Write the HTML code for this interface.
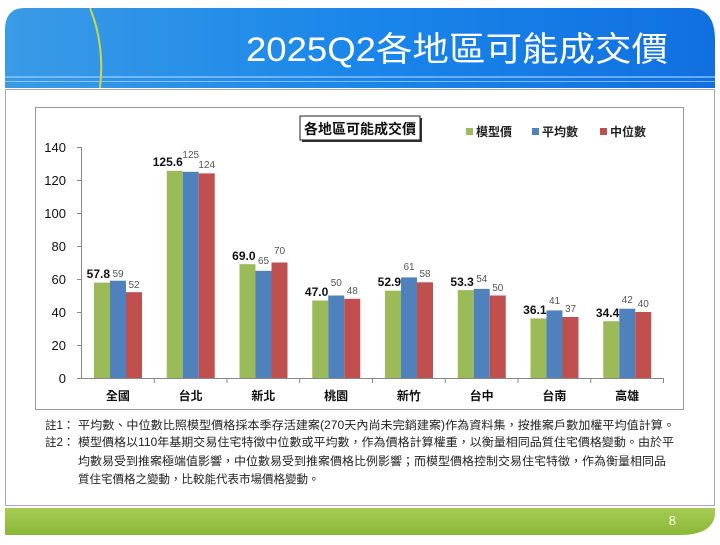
<!DOCTYPE html>
<html><head><meta charset="utf-8"><style>
body{margin:0;width:720px;height:540px;background:#fff;overflow:hidden;font-family:"Liberation Sans","Noto Sans CJK TC",sans-serif;}
</style></head><body>
<svg width="720" height="540" xmlns="http://www.w3.org/2000/svg" font-family="Liberation Sans, Noto Sans CJK TC, sans-serif">
<defs>
<linearGradient id="hd" x1="0" y1="0" x2="1" y2="0"><stop offset="0" stop-color="#3a9be6"/><stop offset="0.5" stop-color="#1a86ea"/><stop offset="1" stop-color="#1170e0"/></linearGradient>
<linearGradient id="ft" x1="0" y1="0" x2="0" y2="1"><stop offset="0" stop-color="#a6cc55"/><stop offset="1" stop-color="#8bb836"/></linearGradient>
</defs>
<path d="M5,30 Q5,8 25,8 L690,8 Q715,8 715,40 L715,88 L5,88 Z" fill="url(#hd)"/>
<rect x="5" y="76" width="710" height="2" fill="#9fd0ff" opacity="0.6"/>
<rect x="5" y="81" width="710" height="1" fill="#bfe0ff" opacity="0.6"/>
<path d="M90,8 Q105,45 100,88" stroke="#c8d84a" stroke-width="2" fill="none"/>
<text x="246" y="61" font-size="34" fill="#fff" textLength="422" lengthAdjust="spacingAndGlyphs">2025Q2各地區可能成交價</text>
<rect x="5.5" y="89.5" width="709" height="416" fill="#fff" stroke="#aaa"/>
<path d="M5,508 L715,508 L715,515 Q712,535 680,535 L5,535 Z" fill="url(#ft)"/>
<text x="676" y="525" text-anchor="end" font-size="13" fill="#fff">8</text>
<rect x="35.5" y="107.5" width="648" height="302" fill="#fff" stroke="#999"/>
<rect x="302" y="118" width="120" height="24" fill="#333"/>
<rect x="300" y="116" width="120" height="24" fill="#fff" stroke="#222"/>
<text x="360" y="134" text-anchor="middle" font-size="14" font-weight="bold" fill="#111">各地區可能成交價</text>
<rect x="466" y="128" width="7" height="7" fill="#9bbb59"/><text x="476" y="136" font-size="12" font-weight="bold" fill="#222">模型價</text>
<rect x="532" y="128" width="7" height="7" fill="#4f81bd"/><text x="542" y="136" font-size="12" font-weight="bold" fill="#222">平均數</text>
<rect x="600" y="128" width="7" height="7" fill="#c0504d"/><text x="610" y="136" font-size="12" font-weight="bold" fill="#222">中位數</text>
<g font-size="13" fill="#111" text-anchor="end">
<text x="66" y="152">140</text><text x="66" y="185">120</text><text x="66" y="218">100</text><text x="66" y="251">80</text><text x="66" y="284">60</text><text x="66" y="317">40</text><text x="66" y="350">20</text><text x="66" y="383">0</text>
</g>
<line x1="81.5" y1="147" x2="81.5" y2="379" stroke="#888"/>
<g stroke="#888">
<line x1="77" y1="147.5" x2="81" y2="147.5"/><line x1="77" y1="180.5" x2="81" y2="180.5"/><line x1="77" y1="213.5" x2="81" y2="213.5"/><line x1="77" y1="246.5" x2="81" y2="246.5"/><line x1="77" y1="279.5" x2="81" y2="279.5"/><line x1="77" y1="312.5" x2="81" y2="312.5"/><line x1="77" y1="345.5" x2="81" y2="345.5"/>
</g>
<g>
<rect x="94" y="282.6" width="16" height="95.4" fill="#9bbb59"/><rect x="110" y="280.7" width="16" height="97.3" fill="#4f81bd"/><rect x="126" y="292.2" width="16" height="85.8" fill="#c0504d"/>
<rect x="166.75" y="170.8" width="16" height="207.2" fill="#9bbb59"/><rect x="182.75" y="171.8" width="16" height="206.2" fill="#4f81bd"/><rect x="198.75" y="173.4" width="16" height="204.6" fill="#c0504d"/>
<rect x="239.5" y="264.2" width="16" height="113.8" fill="#9bbb59"/><rect x="255.5" y="270.8" width="16" height="107.2" fill="#4f81bd"/><rect x="271.5" y="262.5" width="16" height="115.5" fill="#c0504d"/>
<rect x="312.25" y="300.5" width="16" height="77.5" fill="#9bbb59"/><rect x="328.25" y="295.5" width="16" height="82.5" fill="#4f81bd"/><rect x="344.25" y="298.8" width="16" height="79.2" fill="#c0504d"/>
<rect x="385" y="290.7" width="16" height="87.3" fill="#9bbb59"/><rect x="401" y="277.4" width="16" height="100.6" fill="#4f81bd"/><rect x="417" y="282.3" width="16" height="95.7" fill="#c0504d"/>
<rect x="457.75" y="290.1" width="16" height="87.9" fill="#9bbb59"/><rect x="473.75" y="288.9" width="16" height="89.1" fill="#4f81bd"/><rect x="489.75" y="295.5" width="16" height="82.5" fill="#c0504d"/>
<rect x="530.5" y="318.4" width="16" height="59.6" fill="#9bbb59"/><rect x="546.5" y="310.4" width="16" height="67.6" fill="#4f81bd"/><rect x="562.5" y="317" width="16" height="61" fill="#c0504d"/>
<rect x="603.25" y="321.2" width="16" height="56.8" fill="#9bbb59"/><rect x="619.25" y="308.7" width="16" height="69.3" fill="#4f81bd"/><rect x="635.25" y="312" width="16" height="66" fill="#c0504d"/>
</g>
<g stroke="#888">
<line x1="154.25" y1="378" x2="154.25" y2="383"/><line x1="227" y1="378" x2="227" y2="383"/><line x1="299.75" y1="378" x2="299.75" y2="383"/><line x1="372.5" y1="378" x2="372.5" y2="383"/><line x1="445.25" y1="378" x2="445.25" y2="383"/><line x1="518" y1="378" x2="518" y2="383"/><line x1="590.75" y1="378" x2="590.75" y2="383"/><line x1="663.5" y1="378" x2="663.5" y2="383"/>
</g>
<line x1="77" y1="378.5" x2="664" y2="378.5" stroke="#888"/>
<g font-size="12" font-weight="bold" fill="#111" text-anchor="end">
<text x="110" y="278">57.8</text><text x="182.75" y="166">125.6</text><text x="255.5" y="260">69.0</text><text x="328.25" y="296">47.0</text><text x="401" y="286">52.9</text><text x="473.75" y="286">53.3</text><text x="546.5" y="314">36.1</text><text x="619.25" y="317">34.4</text>
</g>
<g font-size="10" fill="#555" text-anchor="middle">
<text x="118" y="277">59</text><text x="190.75" y="158">125</text><text x="263.5" y="264">65</text><text x="336.25" y="286">50</text><text x="409" y="270">61</text><text x="481.75" y="282">54</text><text x="554.5" y="304">41</text><text x="627.25" y="303">42</text>
<text x="134" y="288">52</text><text x="206.75" y="168">124</text><text x="279.5" y="254">70</text><text x="352.25" y="294">48</text><text x="425" y="277">58</text><text x="497.75" y="291">50</text><text x="570.5" y="312">37</text><text x="643.25" y="307">40</text>
</g>
<g font-size="12" font-weight="bold" fill="#111" text-anchor="middle">
<text x="117.9" y="400">全國</text><text x="190.6" y="400">台北</text><text x="263.4" y="400">新北</text><text x="336.1" y="400">桃園</text><text x="408.9" y="400">新竹</text><text x="481.6" y="400">台中</text><text x="554.4" y="400">台南</text><text x="627.1" y="400">高雄</text>
</g>
<g font-size="11.5" fill="#222">
<text x="45" y="429">註1：</text>
<text x="78" y="429" textLength="597" lengthAdjust="spacingAndGlyphs">平均數、中位數比照模型價格採本季存活建案(270天內尚未完銷建案)作為資料集，按推案戶數加權平均值計算。</text>
<text x="45" y="446">註2：</text>
<text x="78" y="446" textLength="596" lengthAdjust="spacingAndGlyphs">模型價格以110年基期交易住宅特徵中位數或平均數，作為價格計算權重，以衡量相同品質住宅價格變動。由於平</text>
<text x="78" y="465" textLength="588" lengthAdjust="spacingAndGlyphs">均數易受到推案極端值影響，中位數易受到推案價格比例影響；而模型價格控制交易住宅特徵，作為衡量相同品</text>
<text x="78" y="483">質住宅價格之變動，比較能代表市場價格變動。</text>
</g>
</svg>
</body></html>
